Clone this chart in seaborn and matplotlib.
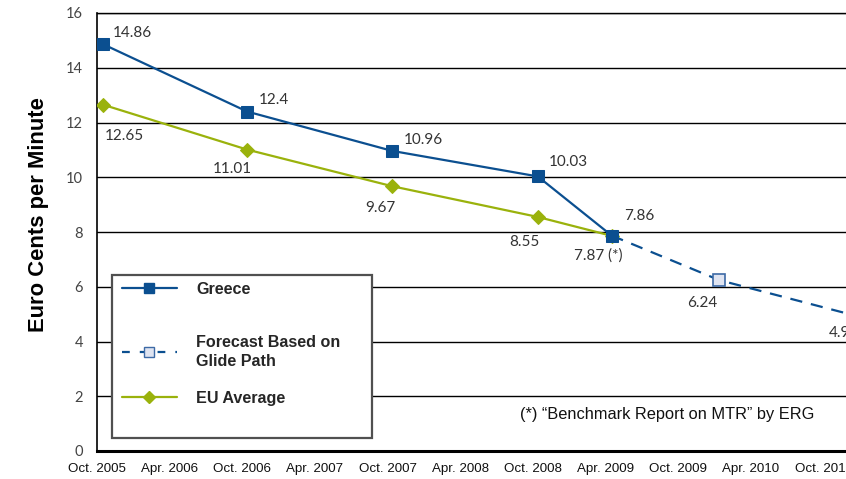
import matplotlib
matplotlib.use("Agg")
import matplotlib.pyplot as plt
from matplotlib.lines import Line2D
from matplotlib.patches import Rectangle
import seaborn as sns
import pandas as pd

# Months counted from October 2005
greece_months = [0.5, 12.4, 24.4, 36.4, 42.5]
greece_values = [14.86, 12.4, 10.96, 10.03, 7.87]
greece_labels = ["14.86", "12.4", "10.96", "10.03", "7.87 (*)"]

eu_months = [0.5, 12.4, 24.4, 36.4, 42.5]
eu_values = [12.65, 11.01, 9.67, 8.55, 7.86]
eu_labels = ["12.65", "11.01", "9.67", "8.55", "7.86"]

forecast_months = [42.5, 51.4, 63.0]
forecast_values = [7.87, 6.24, 4.9]
forecast_labels = [None, "6.24", "4.9"]

tick_months = [0, 6, 12, 18, 24, 30, 36, 42, 48, 54, 60]
tick_labels = ["Oct. 2005", "Apr. 2006", "Oct. 2006", "Apr. 2007", "Oct. 2007",
               "Apr. 2008", "Oct. 2008", "Apr. 2009", "Oct. 2009", "Apr. 2010",
               "Oct. 2010"]

legend_names = ["Greece", "Forecast Based on\nGlide Path", "EU Average"]

BLUE = "#0b4f90"
GREEN = "#9ab20c"
PALE = "#dfe4f1"
LABEL_FONT = "Lato"
TEXT_GREY = "#333333"

sns.set_theme(style="white")
plt.rcParams["font.family"] = ["Liberation Sans", "DejaVu Sans"]

W, H = 846, 479
fig = plt.figure(figsize=(W / 100, H / 100), dpi=100)
ax = fig.add_axes([97 / W, 28 / H, 775 / W, 438 / H])

greece = pd.DataFrame({"month": greece_months, "value": greece_values})
eu = pd.DataFrame({"month": eu_months, "value": eu_values})
forecast = pd.DataFrame({"month": forecast_months, "value": forecast_values})

sns.lineplot(data=forecast, x="month", y="value", ax=ax, color=BLUE, lw=1.6,
             linestyle=(0, (5.5, 4.0)), zorder=3)
ax.plot(forecast_months[1:], forecast_values[1:], ls="none", marker="s", ms=9,
        mfc=PALE, mec="#3d6aa6", mew=1.2, zorder=4, clip_on=False)
sns.lineplot(data=eu, x="month", y="value", ax=ax, color=GREEN, lw=1.6,
             marker="D", markersize=7.5, markeredgecolor=GREEN, zorder=3)
sns.lineplot(data=greece, x="month", y="value", ax=ax, color=BLUE, lw=1.6,
             marker="s", markersize=9, markeredgecolor=BLUE, zorder=3)

ax.set_xlim(0, 64)
ax.set_ylim(0, 16)
ax.set_xticks(tick_months)
ax.set_xticklabels(tick_labels, fontsize=9.6, color="#111111")
ax.set_yticks(range(0, 17, 2))
ax.set_yticklabels([str(v) for v in range(0, 17, 2)], fontsize=10.5,
                   color="#444444", family=LABEL_FONT)
ax.tick_params(axis="x", direction="out", length=5, width=1.2, color="black", pad=3.5)
ax.tick_params(axis="y", direction="out", length=6, width=1.0, color="black", pad=4)
ax.yaxis.grid(True, color="black", lw=1.0)
ax.xaxis.grid(False)
ax.spines["right"].set_visible(False)
ax.spines["top"].set_color("black")
ax.spines["top"].set_linewidth(1.0)
ax.spines["left"].set_color("black")
ax.spines["left"].set_linewidth(1.2)
ax.spines["bottom"].set_color("black")
ax.spines["bottom"].set_linewidth(2.2)
ax.set_xlabel("")
ax.set_ylabel("Euro Cents per Minute", fontsize=15.8, fontweight="bold",
              color="black")
ax.yaxis.set_label_coords((49 - 97) / 775, (451 - 215) / 438)

# Value labels (offsets in pixels)
greece_offsets = [(10, 11, "left"), (12, 12, "left"), (11, 11, "left"),
                  (11, 14, "left"), (-13, -20, "center")]
eu_offsets = [(2, -31, "left"), (-15, -19, "center"), (-12, -22, "center"),
              (-13, -25, "center"), (12, 20, "left")]
forecast_offsets = [None, (-17, -23, "center"), (-20, -16, "center")]


def put_labels(xs, ys, labels, offsets):
    for x, y, lab, off in zip(xs, ys, labels, offsets):
        if lab is None:
            continue
        dx, dy, ha = off
        ax.annotate(lab, (x, y), xytext=(dx, dy), textcoords="offset pixels",
                    ha=ha, va="center", fontsize=11, color=TEXT_GREY,
                    family=LABEL_FONT, annotation_clip=False, zorder=6)


put_labels(greece_months, greece_values, greece_labels, greece_offsets)
put_labels(eu_months, eu_values, eu_labels, eu_offsets)
put_labels(forecast_months, forecast_values, forecast_labels, forecast_offsets)

# Legend box
box = Rectangle((112 / W, 1 - 438 / H), 260 / W, 163 / H,
                transform=fig.transFigure, facecolor="white",
                edgecolor="#505050", lw=1.6, zorder=7)
fig.patches.append(box)

handles = [
    Line2D([], [], color=BLUE, lw=1.6, marker="s", ms=7, mfc=BLUE, mec=BLUE),
    Line2D([], [], color=BLUE, lw=1.6, ls=(0, (3.5, 4.5)), marker="s", ms=7,
           mfc=PALE, mec="#3d6aa6"),
    Line2D([], [], color=GREEN, lw=1.6, marker="D", ms=6, mfc=GREEN, mec=GREEN),
]
# one legend per entry so each row sits where it belongs inside the box
row_centres = [289, 352, 398]
for handle, name, yc in zip(handles, legend_names, row_centres):
    leg = fig.legend([handle], [name], loc="center left",
                     bbox_to_anchor=(122 / W, 1 - yc / H),
                     frameon=False, handlelength=3.4, handletextpad=1.2,
                     borderpad=0, borderaxespad=0,
                     prop={"weight": "bold", "size": 11.6})
    for t in leg.get_texts():
        t.set_linespacing(1.4)
    leg.set_zorder(8)

fig.text(520 / W, 1 - 415 / H, "(*) \u201cBenchmark Report on MTR\u201d by ERG",
         fontsize=11.8, color="#111111", va="center", ha="left")

fig.savefig("out.png", dpi=100)
